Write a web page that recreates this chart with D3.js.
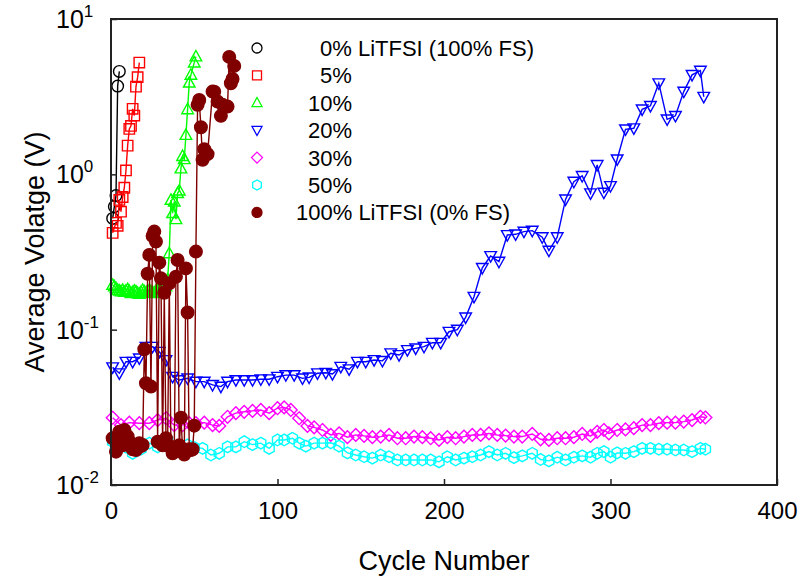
<!DOCTYPE html>
<html>
<head>
<meta charset="utf-8">
<script src="https://cdn.jsdelivr.net/npm/d3@7"></script>
<style>
  body { margin: 0; background: #fff; }
  text { font-family: "Liberation Sans", Arial, sans-serif; fill: #000; }
</style>
</head>
<body>
<div id="chart"></div>
<script>
// ---- data ----
var xTicks = [0, 100, 200, 300, 400];
var yTicks = [10, 1, 0.1, 0.01];
var yTickExp = ["1", "0", "-1", "-2"];

var legendLabels = ["0% LiTFSI (100% FS)", "5%", "10%", "20%", "30%", "50%", "100% LiTFSI (0% FS)"];

var cycles0 = [1, 2, 3, 4, 5];
var volts0 = [0.52, 0.62, 0.73, 3.7, 4.6];

var cycles5 = [1, 3, 4, 5, 6, 7, 8, 9, 10, 11, 12, 13, 14, 15, 16, 17];
var volts5 = [0.42, 0.487, 0.466, 0.684, 0.575, 0.715, 0.82, 1.06, 1.53, 1.96, 2.05, 2.64, 2.39, 3.67, 4.22, 5.24];

var cycles10 = [1, 2, 3, 4, 5, 6, 7, 8, 9, 10, 11, 12, 13, 14, 15, 16, 17, 18, 19, 20,
  21, 22, 23, 24, 25, 26, 27, 28, 29, 30, 31, 32, 33, 34, 35, 36, 37, 38, 39, 40,
  41, 42, 43, 44, 45, 46, 47, 48, 50, 51];
var volts10 = [0.194, 0.19, 0.185, 0.18, 0.178, 0.176, 0.18, 0.175, 0.178, 0.182,
  0.177, 0.172, 0.174, 0.178, 0.176, 0.172, 0.17, 0.175, 0.18, 0.176,
  0.173, 0.178, 0.18, 0.176, 0.174, 0.172, 0.178, 0.182, 0.186, 0.19,
  0.188, 0.185, 0.19, 0.21, 0.31, 0.684, 0.562, 0.667, 0.514, 0.756,
  0.785, 1.09, 1.31, 1.25, 1.79, 2.62, 3.89, 4.37, 5.24, 5.73];

var cycles20 = [1, 5, 9, 13, 17, 21, 25, 29, 33, 37, 41, 46, 51, 56, 61, 66, 70, 75, 80, 85,
  90, 95, 100, 105, 110, 115, 119, 124, 129, 133, 138, 143, 148, 153, 158, 163, 168, 173, 178, 183,
  188, 193, 198, 203, 208, 213, 218, 223, 228, 233, 238, 243, 248, 253, 259, 263, 268, 273, 278, 283,
  288, 292, 296, 300, 304, 309, 314, 319, 324, 329, 334, 339, 344, 349, 354, 356];
var volts20 = [0.0573, 0.0524, 0.0622, 0.0622, 0.0654, 0.0777, 0.0777, 0.0721, 0.0638, 0.0498,
  0.0474, 0.0486, 0.0463, 0.0463, 0.0441, 0.043, 0.0463, 0.0474, 0.0474, 0.0474,
  0.048, 0.048, 0.0498, 0.051, 0.051, 0.0486, 0.0493, 0.0524, 0.0528, 0.0518,
  0.0577, 0.0556, 0.0622, 0.0622, 0.0638, 0.063, 0.0705, 0.0687, 0.074, 0.0758,
  0.0777, 0.0824, 0.0824, 0.097, 0.1, 0.12, 0.163, 0.25, 0.298, 0.274,
  0.407, 0.411, 0.428, 0.434, 0.394, 0.323, 0.394, 0.69, 0.897, 0.977,
  0.756, 1.15, 0.763, 0.842, 1.25, 1.95, 1.98, 2.62, 2.76, 3.86,
  2.26, 2.38, 3.41, 4.37, 4.65, 3.16];

var cycles30 = [1, 6, 11, 17, 23, 28, 33, 38, 43, 47, 51, 56, 61, 65, 70, 75, 80, 85, 90, 95,
  100, 104, 108, 113, 118, 122, 127, 132, 137, 142, 147, 152, 157, 162, 167, 172, 177, 182, 187, 192,
  197, 202, 207, 212, 217, 222, 227, 232, 237, 242, 247, 253, 258, 263, 268, 273, 278, 283, 288, 292,
  296, 299, 304, 309, 314, 319, 324, 329, 334, 339, 344, 349, 354, 357];
var volts30 = [0.0271, 0.0243, 0.0252, 0.025, 0.025, 0.0262, 0.0269, 0.0243, 0.0243, 0.025,
  0.025, 0.0252, 0.0243, 0.024, 0.0275, 0.029, 0.0296, 0.03, 0.0304, 0.029,
  0.0312, 0.0316, 0.0304, 0.0269, 0.024, 0.0235, 0.0226, 0.021, 0.0215, 0.0203,
  0.021, 0.0207, 0.0203, 0.0205, 0.021, 0.02, 0.02, 0.0205, 0.0203, 0.02,
  0.0195, 0.0203, 0.02, 0.0205, 0.021, 0.021, 0.0215, 0.021, 0.0208, 0.0205,
  0.0205, 0.0213, 0.0197, 0.0195, 0.02, 0.02, 0.0203, 0.0213, 0.0207, 0.022,
  0.0226, 0.0215, 0.0226, 0.0228, 0.0232, 0.0243, 0.0243, 0.025, 0.0252, 0.0252,
  0.0256, 0.0262, 0.0275, 0.0272];

var cycles50 = [1, 5, 9, 13, 18, 23, 28, 34, 41, 46, 50, 55, 60, 65, 70, 75, 80, 85, 90, 95,
  100, 104, 109, 113, 117, 122, 127, 132, 137, 142, 147, 152, 157, 162, 167, 172, 177, 182, 187, 192,
  197, 202, 207, 212, 217, 222, 227, 232, 237, 242, 247, 253, 258, 263, 268, 273, 278, 283, 288, 292,
  296, 300, 304, 309, 314, 319, 324, 329, 334, 339, 344, 349, 354, 357];
var volts50 = [0.019, 0.018, 0.0175, 0.016, 0.017, 0.0186, 0.0176, 0.0195, 0.0176, 0.0181,
  0.0175, 0.0172, 0.0156, 0.016, 0.0176, 0.0176, 0.019, 0.0182, 0.0186, 0.0172,
  0.0195, 0.0195, 0.02, 0.0186, 0.0178, 0.0186, 0.0186, 0.0187, 0.0178, 0.0161,
  0.0156, 0.0152, 0.0149, 0.0156, 0.0152, 0.0145, 0.0145, 0.0145, 0.0145, 0.0145,
  0.0141, 0.0152, 0.0145, 0.0149, 0.0152, 0.0156, 0.0164, 0.0156, 0.016, 0.015,
  0.0154, 0.016, 0.0146, 0.0143, 0.0151, 0.0145, 0.0151, 0.0154, 0.0151, 0.016,
  0.0164, 0.0151, 0.0161, 0.016, 0.0164, 0.0172, 0.0172, 0.017, 0.017, 0.0168,
  0.0168, 0.0164, 0.0172, 0.017];

var cycles100 = [1, 3, 4, 5, 6, 7, 8, 9, 10, 11, 12, 13, 14, 15, 16, 17, 18, 19, 20,
  21, 22, 23, 24, 25, 26, 27, 28, 29, 30, 31, 32, 33, 34, 35, 36, 37, 38, 39, 40,
  41, 42, 43, 44, 45, 46, 47, 48, 49, 50, 51, 52, 53, 54, 55, 56, 58, 61, 62, 64,
  66, 67, 70, 71, 72, 73, 74];
var volts100 = [0.02, 0.0164, 0.019, 0.022, 0.02, 0.018, 0.0226, 0.021, 0.0205, 0.019,
  0.018, 0.017, 0.0176, 0.0168, 0.018, 0.0186, 0.0178, 0.0181, 0.0748,
  0.0452, 0.229, 0.303, 0.043, 0.401, 0.428, 0.369, 0.019, 0.27, 0.214,
  0.018, 0.173, 0.02, 0.018, 0.199, 0.0176, 0.016, 0.0164, 0.219, 0.281,
  0.018, 0.0271, 0.017, 0.0157, 0.248, 0.129, 0.017, 0.0168, 0.017, 0.0241,
  0.318, 2.8, 3.01, 2.01, 1.24, 1.45, 1.35, 3.41, 3.4, 2.94,
  2.38, 2.8, 2.73, 5.7, 3.86, 4.11, 4.99];

// ---- layout ----
var W = 801, H = 577;
var pLeft = 111, pRight = 777, pTop = 19, pBottom = 485;

var svg = d3.select("#chart").append("svg")
  .attr("width", W).attr("height", H);

var x = d3.scaleLinear().domain([0, 400]).range([pLeft, pRight]);
var y = d3.scaleLog().domain([0.01, 10]).range([pBottom, pTop]);

// marker shapes
function shapePath(kind, s) {
  var p = d3.path();
  if (kind == "circle") {
    p.moveTo(s, 0); p.arc(0, 0, s, 0, 2 * Math.PI);
  } else if (kind == "square") {
    p.rect(-s * 0.9, -s * 0.9, s * 1.8, s * 1.8);
  } else if (kind == "up") {
    p.moveTo(0, -s * 1.05); p.lineTo(s * 1.0, s * 0.75); p.lineTo(-s * 1.0, s * 0.75); p.closePath();
  } else if (kind == "down") {
    p.moveTo(0, s * 1.05); p.lineTo(s * 1.0, -s * 0.75); p.lineTo(-s * 1.0, -s * 0.75); p.closePath();
  } else if (kind == "diamond") {
    p.moveTo(0, -s * 1.1); p.lineTo(s * 1.1, 0); p.lineTo(0, s * 1.1); p.lineTo(-s * 1.1, 0); p.closePath();
  } else if (kind == "hexagon") {
    for (var i = 0; i < 6; i++) {
      var a = Math.PI / 2 + i * Math.PI / 3;
      var px = s * Math.cos(a), py = -s * Math.sin(a);
      if (i == 0) p.moveTo(px, py); else p.lineTo(px, py);
    }
    p.closePath();
  }
  return p.toString();
}

var series = [
  {cycles: cycles0, volts: volts0, color: "#000000", shape: "circle", fill: false},
  {cycles: cycles5, volts: volts5, color: "#ff0000", shape: "square", fill: false},
  {cycles: cycles10, volts: volts10, color: "#00ff00", shape: "up", fill: false},
  {cycles: cycles20, volts: volts20, color: "#0000ff", shape: "down", fill: false},
  {cycles: cycles30, volts: volts30, color: "#ff00ff", shape: "diamond", fill: false},
  {cycles: cycles50, volts: volts50, color: "#00ffff", shape: "hexagon", fill: false},
  {cycles: cycles100, volts: volts100, color: "#800000", shape: "circle", fill: true}
];

var line = d3.line()
  .x(function(d) { return x(d[0]); })
  .y(function(d) { return y(d[1]); });

series.forEach(function(s) {
  var pts = s.cycles.map(function(c, i) { return [c, s.volts[i]]; });
  var g = svg.append("g");
  g.append("path")
    .datum(pts)
    .attr("d", line)
    .attr("fill", "none")
    .attr("stroke", s.color)
    .attr("stroke-width", 1.4);
  g.selectAll("path.m")
    .data(pts)
    .enter().append("path")
    .attr("class", "m")
    .attr("transform", function(d) { return "translate(" + x(d[0]) + "," + y(d[1]) + ")"; })
    .attr("d", shapePath(s.shape, s.fill ? 6.3 : 5.8))
    .attr("fill", s.fill ? s.color : "none")
    .attr("stroke", s.color)
    .attr("stroke-width", 1.4);
});

// frame
svg.append("rect")
  .attr("x", pLeft).attr("y", pTop)
  .attr("width", pRight - pLeft).attr("height", pBottom - pTop)
  .attr("fill", "none")
  .attr("stroke", "#222")
  .attr("stroke-width", 2);

// x axis
var xAxis = svg.append("g")
  .attr("transform", "translate(0," + pBottom + ")")
  .call(d3.axisBottom(x).tickValues(xTicks).tickSizeInner(-6).tickSizeOuter(0).tickPadding(17));
xAxis.select(".domain").remove();
xAxis.selectAll("line").attr("stroke", "#222").attr("stroke-width", 1.5);
xAxis.selectAll("text")
  .style("font-family", "'Liberation Sans', Arial, sans-serif")
  .style("font-size", "24px")
  .attr("fill", "#000");

// y axis
var yAxis = svg.append("g")
  .attr("transform", "translate(" + pLeft + ",0)")
  .call(d3.axisLeft(y).tickValues(yTicks).tickSizeInner(-6).tickSizeOuter(0).tickFormat(""));
yAxis.select(".domain").remove();
yAxis.selectAll("line").attr("stroke", "#222").attr("stroke-width", 1.5);

yTicks.forEach(function(v, i) {
  var t = svg.append("text")
    .attr("x", 56)
    .attr("y", y(v) + 9)
    .style("font-size", "25px");
  t.append("tspan").text("10");
  t.append("tspan").attr("dy", -11).style("font-size", "17px").text(yTickExp[i]);
});

// axis titles
svg.append("text")
  .attr("x", (pLeft + pRight) / 2)
  .attr("y", 570)
  .attr("text-anchor", "middle")
  .style("font-size", "27px")
  .text("Cycle Number");

svg.append("text")
  .attr("transform", "translate(44," + (pTop + pBottom) / 2 + ") rotate(-90)")
  .attr("text-anchor", "middle")
  .style("font-size", "27px")
  .text("Average Volatge (V)");

// legend
var legendX = [320, 320, 308, 308, 308, 308, 296];
var legend = svg.append("g");
series.forEach(function(s, i) {
  var ly = 48 + i * 27.4;
  legend.append("path")
    .attr("transform", "translate(257," + ly + ")")
    .attr("d", shapePath(s.shape, 5))
    .attr("fill", s.fill ? s.color : "none")
    .attr("stroke", s.color)
    .attr("stroke-width", 1.3);
  legend.append("text")
    .attr("x", legendX[i])
    .attr("y", ly + 8)
    .style("font-size", "22px")
    .text(legendLabels[i]);
});
</script>
</body>
</html>
